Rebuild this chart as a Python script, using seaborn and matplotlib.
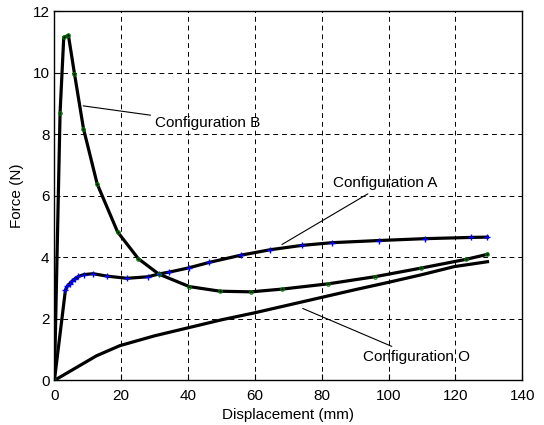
import numpy as np
import pandas as pd
import seaborn as sns
import matplotlib.pyplot as plt

# Configuration A (blue + markers)
disp_a = [0, 3.3, 3.9, 4.6, 5.4, 6.2, 7.2, 8.8, 11.6, 15.8, 21.7, 28.0, 31.2, 34.3,
          40.2, 46.4, 55.7, 64.6, 74.0, 83.2, 97.2, 110.9, 124.7, 129.6]
force_a = [0, 2.94, 3.07, 3.15, 3.24, 3.31, 3.38, 3.44, 3.47, 3.39, 3.32, 3.37, 3.46, 3.52,
           3.66, 3.84, 4.07, 4.25, 4.39, 4.48, 4.55, 4.61, 4.65, 4.66]

# Configuration B (green o markers)
disp_b = [0, 1.7, 2.8, 4.2, 6.0, 8.7, 12.8, 18.9, 25.1, 31.2, 40.4, 49.6, 58.9, 68.2,
          81.9, 95.8, 109.6, 123.3, 129.6]
force_b = [0, 8.71, 11.16, 11.22, 9.98, 8.19, 6.39, 4.83, 3.96, 3.46, 3.05, 2.90, 2.88, 2.97,
           3.14, 3.37, 3.65, 3.94, 4.10]

# Configuration O (no markers)
disp_o = [0, 12.6, 19.6, 30.0, 40.0, 50.0, 60.0, 70.0, 80.0, 90.0, 100.0, 110.0, 119.6, 129.6]
force_o = [0, 0.80, 1.13, 1.45, 1.71, 1.97, 2.20, 2.45, 2.70, 2.95, 3.19, 3.44, 3.70, 3.86]

plt.rcParams['font.family'] = ['Liberation Sans', 'DejaVu Sans']
fig = plt.figure(figsize=(5.44, 4.25), dpi=100)
ax = fig.add_axes([0.100, 0.105, 0.860, 0.868])

df_o = pd.DataFrame({'x': disp_o, 'y': force_o})
df_a = pd.DataFrame({'x': disp_a, 'y': force_a})
df_b = pd.DataFrame({'x': disp_b, 'y': force_b})

sns.lineplot(data=df_o, x='x', y='y', ax=ax, color='black', linewidth=2.3, sort=False)
sns.lineplot(data=df_a, x='x', y='y', ax=ax, color='black', linewidth=2.3, sort=False)
sns.lineplot(data=df_b, x='x', y='y', ax=ax, color='black', linewidth=2.3, sort=False)
ax.plot(disp_a, force_a, linestyle='none', marker='+', color='blue', markersize=5, markeredgewidth=1)
ax.plot(disp_b, force_b, linestyle='none', marker='o', color='green', markersize=2.5,
        markerfacecolor='none', markeredgewidth=0.8)

fs = 11
ax.set_xlim(0, 140)
ax.set_ylim(0, 12)
ax.set_xticks(np.arange(0, 141, 20))
ax.set_yticks(np.arange(0, 13, 2))
ax.grid(True, linestyle=(0, (5, 4)), color='black', linewidth=0.7)
ax.tick_params(direction='in', labelsize=fs, length=4)
ax.tick_params(axis='x', pad=6)
ax.set_xlabel('Displacement (mm)', fontsize=fs, labelpad=4)
ax.set_ylabel('Force (N)', fontsize=fs, labelpad=6)
for s in ax.spines.values():
    s.set_linewidth(1.0)

ann = dict(color='black', linewidth=0.8)
ax.annotate('Configuration B', xy=(8.6, 8.93), xytext=(30.0, 8.37), fontsize=fs,
            va='center', ha='left', arrowprops=dict(arrowstyle='-', shrinkA=1, shrinkB=0, **ann))
ax.annotate('Configuration A', xy=(68.1, 4.42), xytext=(83.5, 6.41), fontsize=fs,
            va='center', ha='left', arrowprops=dict(arrowstyle='-', shrinkA=1, shrinkB=0, **ann))
ax.annotate('Configuration O', xy=(74.3, 2.34), xytext=(92.2, 0.77), fontsize=fs,
            va='center', ha='left', arrowprops=dict(arrowstyle='-', shrinkA=1, shrinkB=0, **ann))

fig.savefig('out.png', dpi=100)
